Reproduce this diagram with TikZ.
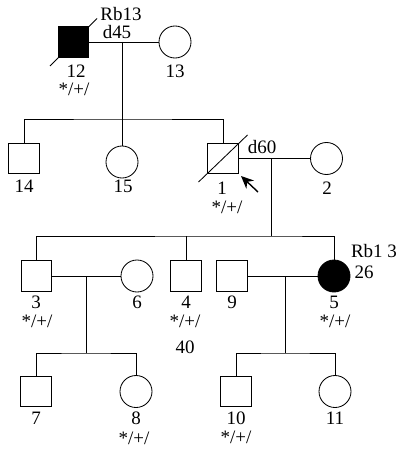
\documentclass[tikz,border=0pt]{standalone}
\usepackage{fontspec}
\setmainfont{Liberation Serif}
\usetikzlibrary{arrows.meta,calc,positioning}
\begin{document}
\begin{tikzpicture}[x=0.025cm,y=-0.025cm]
% TikZ styles
\tikzset{
  male/.style={rectangle, draw=black, line width=0.6pt, fill=white, minimum size=0.76cm, inner sep=0pt},
  female/.style={circle, draw=black, line width=0.6pt, fill=white, minimum size=0.8cm, inner sep=0pt},
  affected/.style={fill=black},
  txt/.style={inner sep=0pt, font=\fontsize{13.5}{15}\selectfont},
  line/.style={line width=0.6pt},
  deceased/.style={line width=0.6pt},
  pointer/.style={-{Stealth[length=9pt,width=8pt]}, line width=1pt}
};
\useasboundingbox (0,0) rectangle (400,453);

%==========================
% Generation I
%==========================
\node[male, affected] (n12) at (73.5,42) {};
\node[female] (n13) at (175,42) {};
\node[txt] (l12) at (76,71) {12};
\node[txt] (g12) at (74,89) {*/+/};
\node[txt] (l13) at (175,71) {13};
\node[txt] (rb12) at (121,14) {Rb13};
\node[txt] (d12) at (117,32) {d45};

%==========================
% Generation II
%==========================
\node[male] (n14) at (24,158.5) {};
\node[female] (n15) at (122,162) {};
\node[male] (n1) at (223,158.5) {};
\node[female] (n2) at (326.5,158.5) {};
\node[txt] (l14) at (24,186) {14};
\node[txt] (l15) at (123,186) {15};
\node[txt] (l1) at (222,188) {1};
\node[txt] (g1) at (227,207) {*/+/};
\node[txt] (l2) at (327,188) {2};
\node[txt] (d1) at (262,147) {d60};

%==========================
% Generation III
%==========================
\node[male] (n3) at (36.5,276) {};
\node[female] (n6) at (137,276) {};
\node[male] (n4) at (186,276) {};
\node[male] (n9) at (232,276) {};
\node[female, affected] (n5) at (334,276) {};
\node[txt] (l3) at (36,302) {3};
\node[txt] (g3) at (37,321) {*/+/};
\node[txt] (l6) at (137,302) {6};
\node[txt] (l4) at (186,302) {4};
\node[txt] (g4) at (185,321) {*/+/};
\node[txt] (a4) at (185,347) {40};
\node[txt] (l9) at (232,302) {9};
\node[txt] (l5) at (334,302) {5};
\node[txt] (g5) at (335,321) {*/+/};
\node[txt] (rb5) at (374,251) {Rb1 3};
\node[txt] (a5) at (364,272) {26};

%==========================
% Generation IV
%==========================
\node[male] (n7) at (36,391.5) {};
\node[female] (n8) at (136,391.5) {};
\node[male] (n10) at (236,391.5) {};
\node[female] (n11) at (335,391.5) {};
\node[txt] (l7) at (36,418) {7};
\node[txt] (l8) at (136,418) {8};
\node[txt] (g8) at (134,438) {*/+/};
\node[txt] (l10) at (236,418) {10};
\node[txt] (g10) at (236,437) {*/+/};
\node[txt] (l11) at (335,418) {11};

% === Hilfspunkte ===
\coordinate (mar1) at (122,42);
\coordinate (sib2) at (122,119);
\coordinate (mar2) at (271,158.5);
\coordinate (sib3) at (271,236);
\coordinate (mar3) at (86,276);
\coordinate (sib4) at (86,353);
\coordinate (mar4) at (285,276);
\coordinate (sib5) at (285,353);

% === Ehelinien ===
\draw[line] (n12.east) -- (n13.west);
\draw[line] (n1.east) -- (n2.west);
\draw[line] (n3.east) -- (n6.west);
\draw[line] (n9.east) -- (n5.west);

% === Abstammung ===
\draw[line] (mar1) -- (n15.north);
\draw[line] (n14.north) |- (sib2) -| (n1.north);
\draw[line] (mar2) -- (sib3);
\draw[line] (n3.north) |- (sib3) -| (n5.north);
\draw[line] (n4.north) -- (n4.north |- sib3);
\draw[line] (mar3) -- (sib4);
\draw[line] (n7.north) |- (sib4) -| (n8.north);
\draw[line] (mar4) -- (sib5);
\draw[line] (n10.north) |- (sib5) -| (n11.north);

% === Verstorben ===
\draw[deceased] ($(n12)+(-23.5,24)$) -- ($(n12)+(23.5,-23.5)$);
\draw[deceased] ($(n1)+(-24.5,23.5)$) -- ($(n1)+(24.5,-23.5)$);

% === Proband ===
\coordinate (ptail) at (258,192);
\coordinate (ptip) at (241,176);
\draw[pointer] (ptail) -- (ptip);
\end{tikzpicture}
\end{document}
